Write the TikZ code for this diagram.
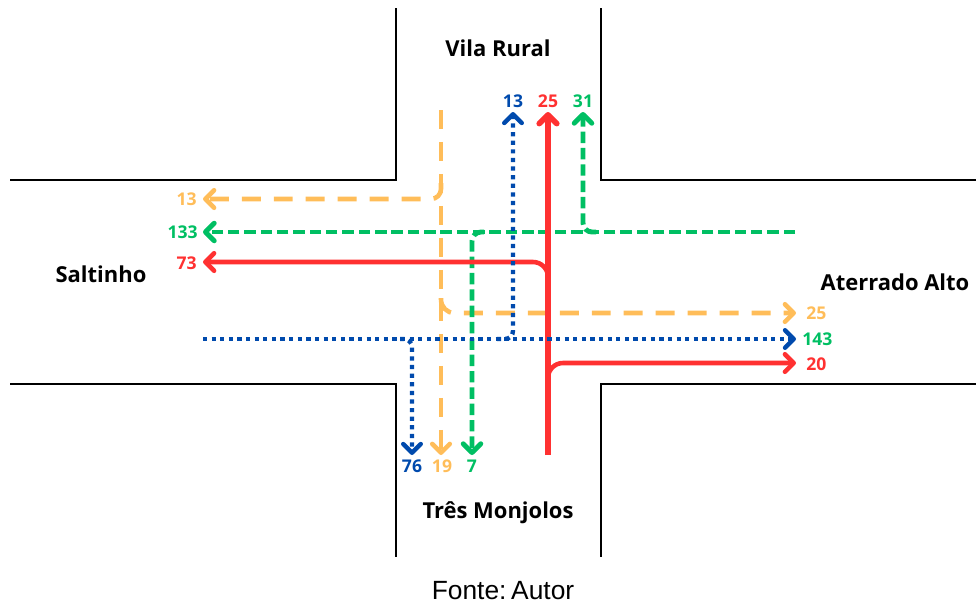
\documentclass[tikz,border=0pt]{standalone}
\usepackage{fontspec}
\setmainfont{Open Sans}
\newfontfamily\captionfont{Liberation Sans}
\usetikzlibrary{arrows.meta}
\definecolor{flowred}{HTML}{FF3131}
\definecolor{flowgreen}{HTML}{00BF63}
\definecolor{flowblue}{HTML}{004AAD}
\definecolor{floworange}{HTML}{FFBD59}
\tikzset{
  road/.style={line width=1.2pt, black},
  tip/.style={-{Straight Barb[round,length=5pt,width=10pt]}},
  redflow/.style={flowred, line width=2.6pt, tip},
  greenflow/.style={flowgreen, line width=2.8pt, dash pattern=on 6.5pt off 2.8pt, tip},
  blueflow/.style={flowblue, line width=2.5pt, dash pattern=on 2.4pt off 2.5pt, tip},
  orangeflow/.style={floworange, line width=2.6pt, dash pattern=on 10.8pt off 7.4pt, tip},
  num/.style={font=\fontsize{10}{12}\selectfont\bfseries, inner sep=0pt},
  place/.style={font=\fontsize{12.5}{14}\selectfont\bfseries, inner sep=0pt, anchor=base},
}
\begin{document}
\begin{tikzpicture}[x=0.02cm, y=-0.02cm]
\useasboundingbox (0,0) rectangle (976,602);

% road edges of the crossing
\draw[road] (396,8) -- (396,180) -- (10,180);
\draw[road] (601,8) -- (601,180) -- (976,180);
\draw[road] (10,384) -- (396,384) -- (396,557);
\draw[road] (976,384) -- (601,384) -- (601,557);

% place names
\node[place] (vila) at (498,56) {Vila Rural};
\node[place] (saltinho) at (101,282) {Saltinho};
\node[place] (aterrado) at (895,290) {Aterrado Alto};
\node[place] (tres) at (498,518) {Três Monjolos};
\node[anchor=base, inner sep=0pt, font=\captionfont\fontsize{15}{17}\selectfont] (fonte) at (503,599) {Fonte:\kern-0.1em\ Autor};

% volume labels
\node[num, text=flowblue] (nB13) at (513,101) {13};
\node[num, text=flowred] (nR25) at (548,101) {25};
\node[num, text=flowgreen] (nG31) at (583,101) {31};
\node[num, anchor=east, text=floworange] (nO13) at (197,199) {13};
\node[num, anchor=east, text=flowgreen] (nG133) at (198,232) {133};
\node[num, anchor=east, text=flowred] (nR73) at (197,263) {73};
\node[num, anchor=west, text=floworange] (nO25) at (806,313) {25};
\node[num, anchor=west, text=flowgreen] (nG143) at (802,339) {143};
\node[num, anchor=west, text=flowred] (nR20) at (806,364) {20};
\node[num, text=flowblue] (nB76) at (412,466) {76};
\node[num, text=floworange] (nO19) at (442,466) {19};
\node[num, text=flowgreen] (nG7) at (472,466) {7};

% arrow ends
\coordinate (topB) at (513,112);
\coordinate (topR) at (548,112);
\coordinate (topG) at (583,112);
\coordinate (leftO) at (203,199);
\coordinate (leftG) at (203,232);
\coordinate (leftR) at (203,262);
\coordinate (rightO) at (796,313);
\coordinate (rightB) at (796,339);
\coordinate (rightR) at (796,363);
\coordinate (botB) at (412,455);
\coordinate (botO) at (441,455);
\coordinate (botG) at (472,455);

% flow origins
\coordinate (srcO) at (441,110);
\coordinate (srcG) at (795,232);
\coordinate (srcR) at (548,455);
\coordinate (srcB) at (203,339);

% orange: from Vila Rural
\draw[orangeflow] (srcO) -- (botO);
\draw[orangeflow, rounded corners=0.2cm] (441,183) |- (leftO);
\draw[orangeflow, rounded corners=0.27cm] (441,298) |- (rightO);

% green: from Aterrado Alto
\draw[greenflow] (srcG) -- (leftG);
\draw[greenflow, rounded corners=0.18cm] (596,232) -| (topG);
\draw[greenflow, rounded corners=0.18cm] (484,232) -| (botG);

% red: from Tres Monjolos
\draw[redflow, rounded corners=0.3cm] (548,300) |- (leftR);
\draw[redflow, rounded corners=0.3cm] (548,400) |- (rightR);
\draw[redflow, line width=3.2pt] (srcR) -- (topR);

% blue: from Saltinho
\draw[blueflow] (srcB) -- (rightB);
\draw[blueflow, rounded corners=0.16cm] (497,339) -| (topB);
\draw[blueflow, rounded corners=0.16cm] (400,339) -| (botB);
\end{tikzpicture}
\end{document}
